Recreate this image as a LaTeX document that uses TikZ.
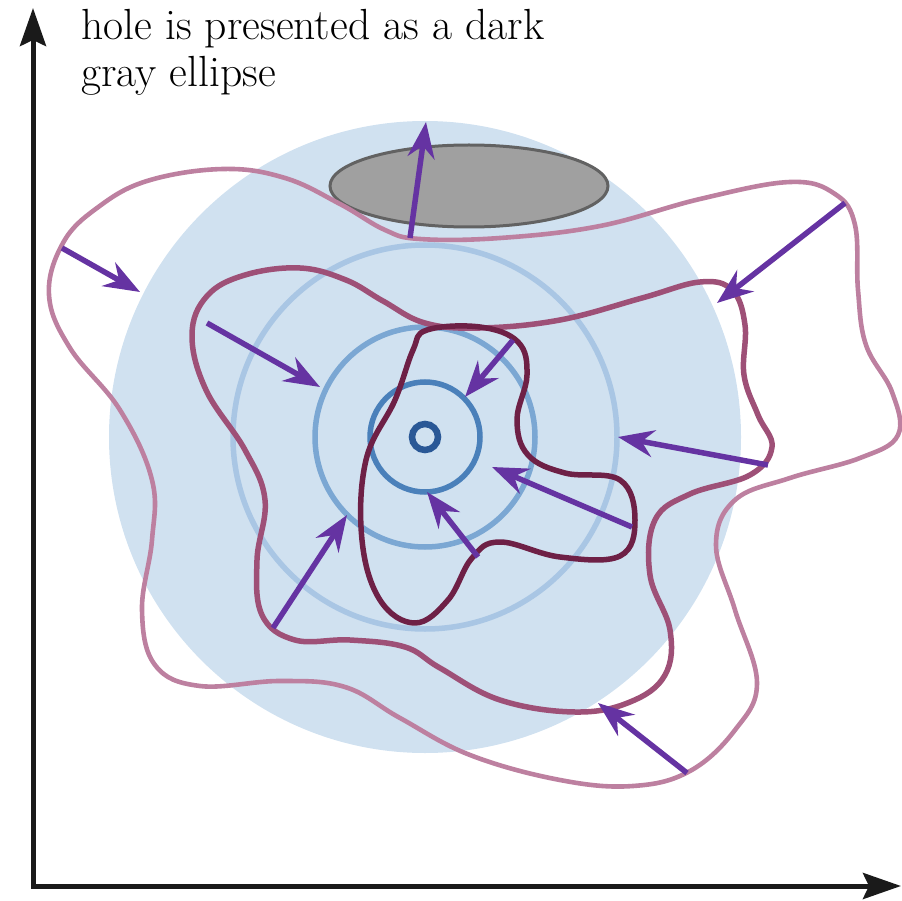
\documentclass[tikz,border=0pt]{standalone}
\usepackage{fontspec}
\usetikzlibrary{arrows.meta,shapes.geometric}
\definecolor{discblue}{HTML}{D0E1F0}
\definecolor{ringA}{HTML}{A9C6E4}
\definecolor{ringB}{HTML}{7BA7D3}
\definecolor{ringC}{HTML}{4A80BA}
\definecolor{ringD}{HTML}{2A5896}
\definecolor{holefill}{HTML}{A0A0A0}
\definecolor{holedraw}{HTML}{626262}
\definecolor{outerc}{HTML}{BD80A0}
\definecolor{middlec}{HTML}{9E5077}
\definecolor{innerc}{HTML}{6E2046}
\definecolor{flowc}{HTML}{6533A2}
\definecolor{axisc}{HTML}{1A1A1A}
\tikzset{
  ring/.style={line width=5.5pt},
  contour/.style={line width=5.5pt, line join=round},
  flow/.style={draw=flowc, line width=5.5pt, -{Stealth[length=36pt,width=27pt,inset=12pt]}},
  axisline/.style={draw=axisc, line width=5pt, {Stealth[length=38pt,width=26pt,inset=6pt]}-{Stealth[length=38pt,width=26pt,inset=6pt]}},
}
\begin{document}
\begin{tikzpicture}[x=1pt,y=-1pt]
\useasboundingbox (0,0) rectangle (902,901);
% disc and rings
\coordinate (c) at (425,437);
\fill[discblue] (c) circle[radius=316pt];
\draw[ring, ringA] (c) circle[radius=192pt];
\draw[ring, ringB] (c) circle[radius=110pt];
\draw[ring, ringC] (c) circle[radius=55pt];
\draw[ring, ringD, line width=6.5pt] (c) circle[radius=13pt];
% hole
\node[draw=holedraw, fill=holefill, line width=3pt, ellipse, minimum width=278pt, minimum height=82pt, inner sep=0pt] (hole) at (469,186) {};
% contours
\draw[contour, outerc, line width=4.6pt] plot[smooth cycle, tension=0.65] coordinates {
(63,243) (97,208) (147,181) (223,169) (285,178) (340,204) (385,230) (420,239) (500,238) (600,226) (700,199) (790,182) (835,194) (855,225) (858,290) (866,345) (892,392) (898,435) (860,458) (790,478) (735,500) (716,545) (735,610) (757,683) (735,730) (690,771) (633,786) (560,780) (470,755) (400,718) (345,687) (280,681) (200,686) (155,665) (142,610) (152,540) (152,480) (120,410) (70,348) (49,295)};
\draw[contour, middlec] plot[smooth cycle, tension=0.65] coordinates {
(192,335) (207,296) (245,275) (300,268) (346,280) (383,301) (425,323) (480,328) (560,320) (642,298) (700,282) (732,290) (745,325) (744,375) (758,415) (772,447) (750,475) (690,494) (655,520) (650,575) (670,630) (665,675) (630,702) (575,712) (500,700) (440,668) (405,647) (350,640) (295,640) (262,615) (257,560) (265,500) (245,450) (206,390)};
\draw[contour, innerc] plot[smooth cycle, tension=0.65] coordinates {
(427,330) (480,327) (518,342) (527,375) (517,420) (528,455) (565,473) (620,480) (635,520) (620,556) (560,557) (500,542) (472,558) (448,600) (415,623) (380,600) (362,540) (366,460) (395,400) (413,350)};
% arrows
\coordinate (a1s) at (410,238); \coordinate (a1e) at (426,122);
\coordinate (a2s) at (62,248);  \coordinate (a2e) at (140,292);
\coordinate (a3s) at (207,323); \coordinate (a3e) at (320,387);
\coordinate (a4s) at (845,203); \coordinate (a4e) at (717,303);
\coordinate (a5s) at (768,465); \coordinate (a5e) at (618,437);
\coordinate (a6s) at (513,340); \coordinate (a6e) at (465,397);
\coordinate (a7s) at (632,527); \coordinate (a7e) at (492,467);
\coordinate (a8s) at (478,557); \coordinate (a8e) at (427,492);
\coordinate (a9s) at (273,628); \coordinate (a9e) at (347,515);
\coordinate (a10s) at (687,773); \coordinate (a10e) at (598,703);
\foreach \i in {1,...,10} {\draw[flow] (a\i s) -- (a\i e);}
% axes
\coordinate (ytip) at (33,8);
\coordinate (origin) at (33,886);
\coordinate (xtip) at (901,886);
\draw[axisline] (ytip) -- (origin) -- (xtip);
% caption
\node[anchor=north west, inner sep=0pt, align=left, font=\fontsize{43.6}{47}\selectfont] (cap) at (81,9) {hole is presented as a dark\\gray ellipse};
\end{tikzpicture}
\end{document}
